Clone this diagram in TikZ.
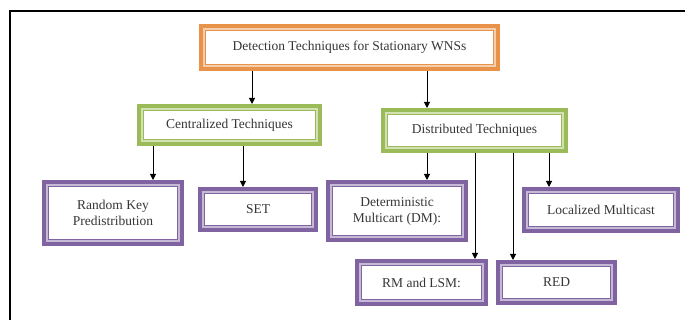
\documentclass[tikz,border=0pt]{standalone}
\usepackage{fontspec}
\setmainfont{Liberation Serif}
\usetikzlibrary{arrows.meta}

\definecolor{orangeline}{HTML}{E8924A}
\definecolor{greenline}{HTML}{9BBB59}
\definecolor{purpleline}{HTML}{8064A2}
\definecolor{boxtext}{HTML}{363636}

\tikzset{
  techbox/.style={draw=#1, fill=#1!45!white, line width=4pt, outer sep=2pt,
    inner sep=0pt, align=center, text=boxtext,
    font=\fontsize{13.5}{16}\selectfont,
    path picture={\draw[#1, line width=1.2pt, fill=white]
      ([shift={(4.6pt,-4.6pt)}]path picture bounding box.north west) rectangle
      ([shift={(-4.6pt,4.6pt)}]path picture bounding box.south east);}},
  link/.style={line width=1pt, -{Triangle[length=6pt,width=6pt]}},
}

\begin{document}
\begin{tikzpicture}[x=1pt,y=-1pt]
            \useasboundingbox (0,0) rectangle (685,320);
            \draw[line width=1.8pt] (10,320) -- (10,11) -- (685,11);

            \node[techbox=orangeline, minimum width=297pt, minimum height=43pt] (title) at (349.5,47.5) {Detection Techniques for Stationary WNSs};

            \node[techbox=greenline, minimum width=181pt, minimum height=38pt] (cent) at (229.5,125) {Centralized Techniques};
            \node[techbox=greenline, minimum width=183pt, minimum height=41pt] (dist) at (474.5,130.5) {Distributed Techniques};

            \node[techbox=purpleline, minimum width=138pt, minimum height=62pt] (rkp) at (113,213) {Random Key\\Predistribution};
            \node[techbox=purpleline, minimum width=116pt, minimum height=41pt] (set) at (258,209.5) {SET};
            \node[techbox=purpleline, minimum width=138pt, minimum height=58pt] (det) at (397,211) {Deterministic\\Multicart (DM):};
            \node[techbox=purpleline, minimum width=154pt, minimum height=42pt] (loc) at (601,210) {Localized Multicast};
            \node[techbox=purpleline, minimum width=129pt, minimum height=43pt] (rm) at (421.5,282.5) {RM and LSM:};
            \node[techbox=purpleline, minimum width=117pt, minimum height=41pt] (red) at (556.5,282.5) {RED};

            \draw[link] (title.south -| 252,0) -- (cent.north -| 252,0);
            \draw[link] (title.south -| 427,0) -- (dist.north -| 427,0);

            \draw[link] (cent.south -| 153,0) -- (rkp.north -| 153,0);
            \draw[link] (cent.south -| 243,0) -- (set.north -| 243,0);

            \draw[link] (dist.south -| 427,0) -- (det.north -| 427,0);
            \draw[link] (dist.south -| 475,0) -- (rm.north -| 475,0);
            \draw[link] (dist.south -| 513,0) -- (red.north -| 513,0);
            \draw[link] (dist.south -| 549,0) -- (loc.north -| 549,0);
        \end{tikzpicture}
\end{document}
